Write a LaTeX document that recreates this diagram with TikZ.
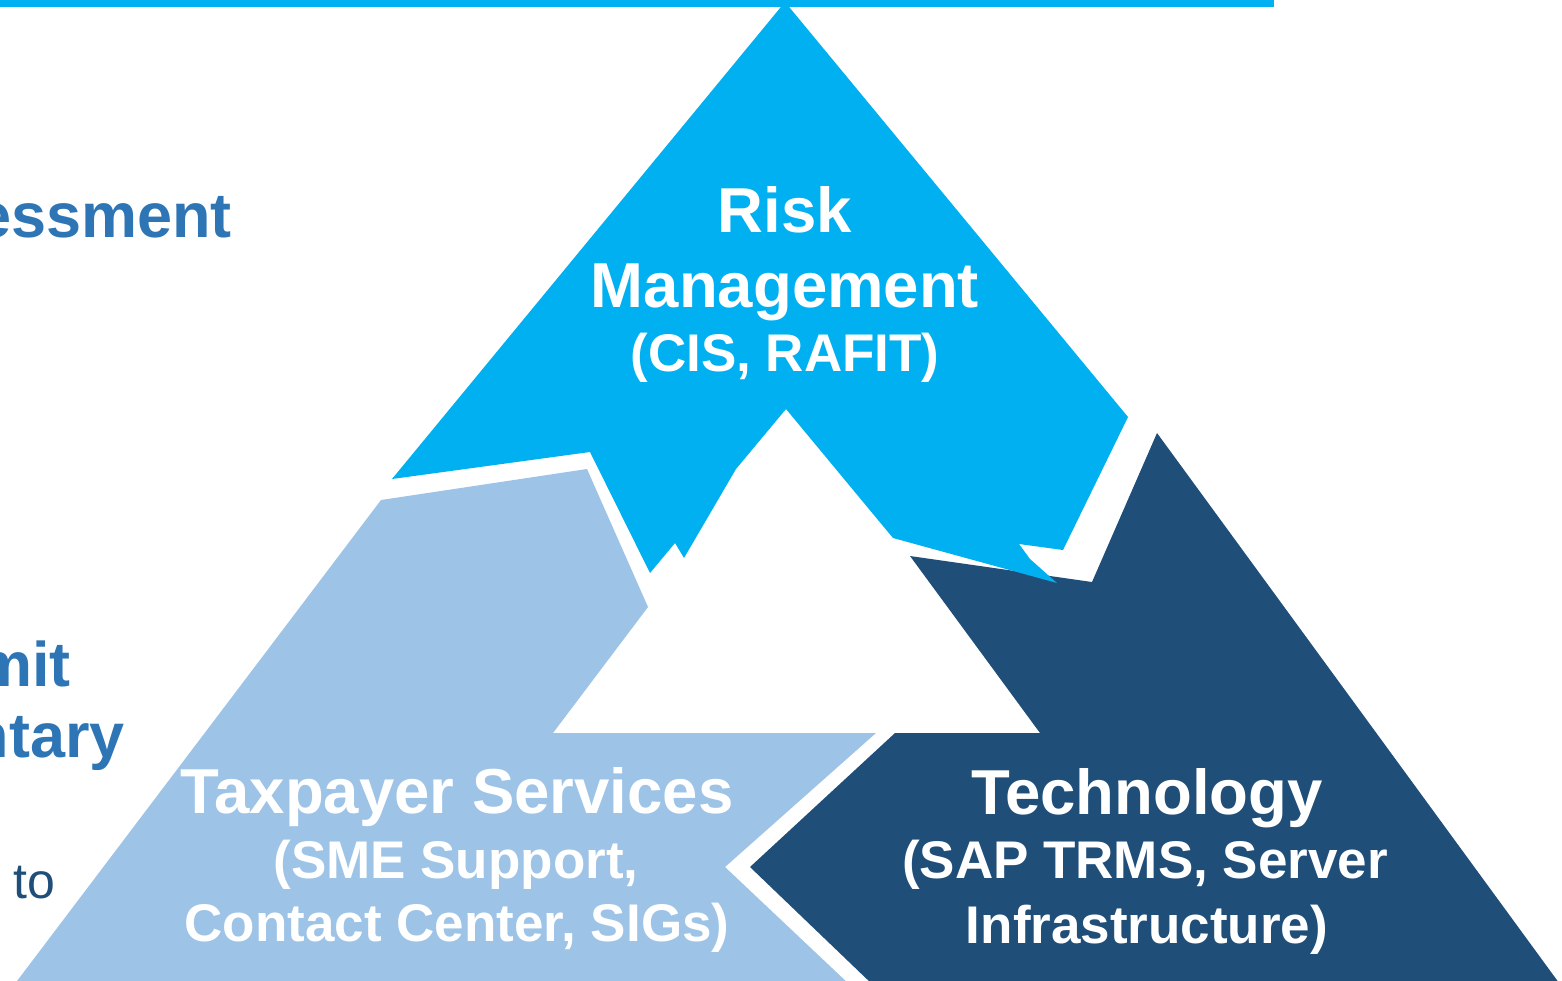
\documentclass[tikz,border=0pt]{standalone}
\usepackage{fontspec}
\setmainfont{Liberation Sans}
\definecolor{riskcyan}{HTML}{00B0F0}
\definecolor{servlight}{HTML}{9DC3E6}
\definecolor{techdark}{HTML}{1F4E79}
\definecolor{headblue}{HTML}{2E75B6}
\begin{document}
\begin{tikzpicture}[x=1pt,y=-1pt,
  heading/.style={font=\fontsize{63.5}{63.5}\selectfont\bfseries, text=white, inner sep=0pt, anchor=base},
  subline/.style={font=\fontsize{53}{53}\selectfont\bfseries, text=white, inner sep=0pt, anchor=base},
  sidebold/.style={font=\fontsize{63}{63}\selectfont\bfseries, text=headblue, inner sep=0pt, anchor=base east},
  sideplain/.style={font=\fontsize{50}{50}\selectfont, text=techdark, inner sep=0pt, anchor=base west},
]
\useasboundingbox (0,0) rectangle (1562,980);
\clip (0,0) rectangle (1562,980);

% top rule
\fill[riskcyan] (0,0) rectangle (1274,7);

% taxpayer services piece
\fill[servlight] (381,500) -- (587,469) -- (648,607) -- (553,733) -- (876,733)
  -- (725,867) -- (850,985) -- (14,985) -- cycle;

% technology piece
\fill[techdark] (910,556) -- (1092,582) -- (1157,433) -- (1562,987) -- (873,985)
  -- (750,867) -- (895,733) -- (1040,733) -- cycle;

% risk management piece (its lower right tip lies over the technology piece)
\fill[riskcyan] (785,2) -- (1128,417) -- (1063,550) -- (1019,544) -- (1030,559)
  -- (1057,583) -- (893,538) -- (883,526) -- (786,409) -- (736,469)
  -- (684,558) -- (675,543) -- (650,573) -- (590,452) -- (392,479) -- cycle;

% labels
\node[heading] (riskA) at (785,232) {Risk};
\node[heading] (riskB) at (785,307) {Management};
\node[subline] (riskC) at (785,371) {(CIS, RAFIT)};

\node[heading] (servA) at (457,813) {Taxpayer Services};
\node[subline] (servB) at (456,878) {(SME Support,};
\node[subline] (servC) at (457,941) {Contact Center, SIGs)};

\node[heading] (techA) at (1147,814) {Technology};
\node[subline] (techB) at (1145,878) {(SAP TRMS, Server};
\node[subline] (techC) at (1147,943) {Infrastructure)};

% side text, running in from the left edge
\node[sidebold] (sideA) at (232,237) {essment};
\node[sidebold] (sideB) at (71,686) {mit};
\node[sidebold] (sideC) at (125,757) {ntary};
\node[sideplain] (sideD) at (13,898) {to};
\end{tikzpicture}
\end{document}
